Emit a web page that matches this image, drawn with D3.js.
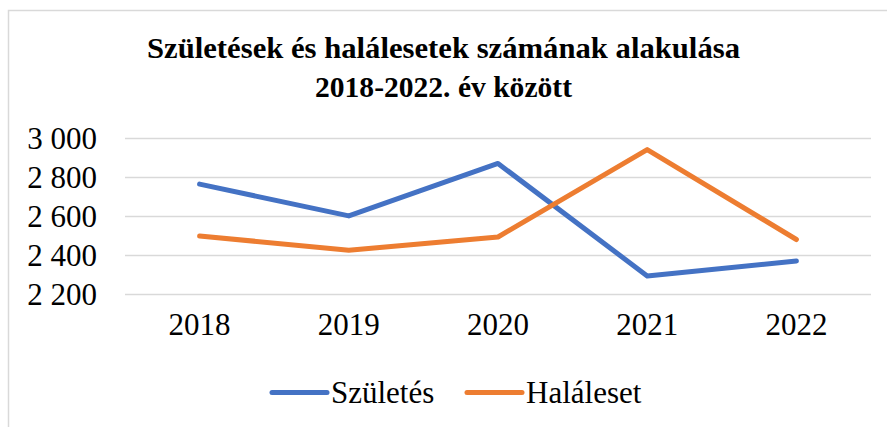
<!DOCTYPE html>
<html>
<head>
<meta charset="utf-8">
<script src="https://cdn.jsdelivr.net/npm/d3@7"></script>
<style>
  body { margin: 0; background: #fff; }
  svg { display: block; }
</style>
</head>
<body>
<div id="chart"></div>
<script>
const years = ["2018", "2019", "2020", "2021", "2022"];
const szuletes = [2766, 2603, 2872, 2295, 2372];
const haleset = [2500, 2427, 2495, 2943, 2482];
const yTicks = [2200, 2400, 2600, 2800, 3000];
const titleLines = ["Születések és halálesetek számának alakulása", "2018-2022. év között"];
const seriesNames = ["Születés", "Haláleset"];
const colors = ["#4472C4", "#ED7D31"];

const width = 887, height = 427;
const font = "Liberation Serif, Times New Roman, Tinos, DejaVu Serif, serif";

const svg = d3.select("#chart").append("svg")
  .attr("width", width)
  .attr("height", height)
  .style("font-family", font);

// chart frame (only top and left edges show in the crop)
svg.append("path")
  .attr("d", "M8.5,427 V10.5 H887")
  .attr("fill", "none")
  .attr("stroke", "#d9d9d9")
  .attr("stroke-width", 1.5);

// title
svg.selectAll(".title")
  .data(titleLines)
  .enter().append("text")
  .attr("class", "title")
  .attr("x", 443.5)
  .attr("y", (d, i) => 58 + i * 39)
  .attr("text-anchor", "middle")
  .style("font-family", font)
  .attr("font-weight", "bold")
  .attr("font-size", 29)
  .attr("textLength", (d, i) => i === 0 ? 593 : 257)
  .attr("lengthAdjust", "spacingAndGlyphs")
  .text(d => d);

const x = d3.scaleBand()
  .domain(years)
  .range([125, 871]);

const y = d3.scaleLinear()
  .domain([2200, 3000])
  .range([294.5, 138.5]);

// gridlines
svg.append("g")
  .selectAll("line")
  .data(yTicks)
  .enter().append("line")
  .attr("x1", 125)
  .attr("x2", 871)
  .attr("y1", d => y(d))
  .attr("y2", d => y(d))
  .attr("stroke", "#d9d9d9")
  .attr("stroke-width", 1.5);

// y axis labels
const yAxis = svg.append("g")
  .attr("transform", "translate(125,0)")
  .call(d3.axisLeft(y).tickValues(yTicks).tickSize(0).tickPadding(28)
    .tickFormat(d => d3.format(",")(d).replace(",", " ")));
yAxis.select(".domain").remove();
yAxis.attr("font-family", null).attr("font-size", null);
yAxis.selectAll("text")
  .style("font-family", font)
  .style("font-size", "31px")
  .attr("fill", "#000");

// x axis labels
const xAxis = svg.append("g")
  .attr("transform", "translate(0,294.5)")
  .call(d3.axisBottom(x).tickSize(0).tickPadding(18));
xAxis.select(".domain").remove();
xAxis.attr("font-family", null).attr("font-size", null);
xAxis.selectAll("text")
  .style("font-family", font)
  .style("font-size", "31px")
  .attr("fill", "#000");

// lines
const line = d3.line()
  .x((d, i) => x(years[i]) + x.bandwidth() / 2)
  .y(d => y(d));

[szuletes, haleset].forEach((vals, k) => {
  svg.append("path")
    .datum(vals)
    .attr("d", line)
    .attr("fill", "none")
    .attr("stroke", colors[k])
    .attr("stroke-width", 5)
    .attr("stroke-linejoin", "round")
    .attr("stroke-linecap", "round");
});

// legend
const legendX = [272, 467];
const legend = svg.append("g");
seriesNames.forEach((name, k) => {
  legend.append("line")
    .attr("x1", legendX[k])
    .attr("x2", legendX[k] + 55)
    .attr("y1", 392.5)
    .attr("y2", 392.5)
    .attr("stroke", colors[k])
    .attr("stroke-width", 5)
    .attr("stroke-linecap", "round");
  legend.append("text")
    .attr("x", legendX[k] + 59)
    .attr("y", 402.5)
    .style("font-family", font)
    .style("font-size", "31px")
    .attr("fill", "#000")
    .text(name);
});
</script>
</body>
</html>
